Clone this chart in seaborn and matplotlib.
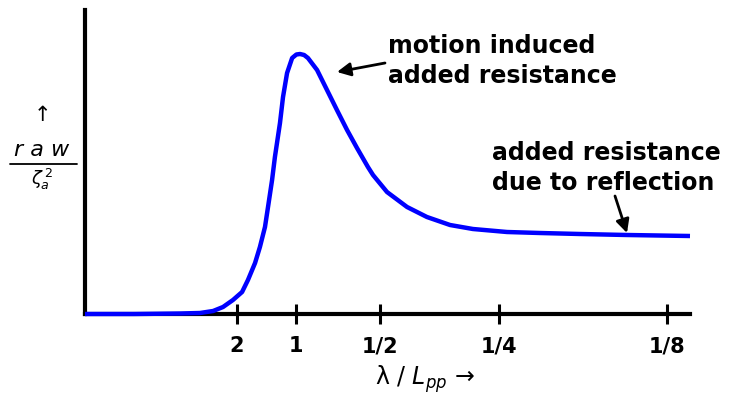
import numpy as np
import pandas as pd
import matplotlib
matplotlib.use("Agg")
import matplotlib.pyplot as plt
import seaborn as sns

# ---- data ----
# x: frequency-like coordinate (1/sqrt(lambda/Lpp)), y: raw/zeta_a^2 (arbitrary units)
omega = [-0.043, 0.200, 0.426, 0.524, 0.589, 0.638, 0.687, 0.732, 0.761, 0.796,
         0.820, 0.845, 0.860, 0.880, 0.894, 0.919, 0.934, 0.954, 0.979, 1.000,
         1.018, 1.038, 1.057, 1.102, 1.151, 1.200, 1.250, 1.299, 1.353, 1.378,
         1.447, 1.546, 1.644, 1.758, 1.871, 2.039, 2.202, 2.399, 2.631, 2.942]
raw = [0.000, 0.000, 0.005, 0.010, 0.030, 0.070, 0.140, 0.220, 0.340, 0.510,
       0.670, 0.870, 1.070, 1.340, 1.570, 1.910, 2.170, 2.410, 2.560, 2.595,
       2.600, 2.590, 2.560, 2.440, 2.240, 2.040, 1.840, 1.660, 1.470, 1.390,
       1.220, 1.070, 0.970, 0.890, 0.850, 0.820, 0.810, 0.800, 0.790, 0.780]
tick_lambda = [2, 1, 0.5, 0.25, 0.125]
tick_labels = ["2", "1", "1/2", "1/4", "1/8"]

df = pd.DataFrame({"omega": omega, "raw": raw})

sns.set_theme(style="white")
plt.rcParams["font.family"] = ["DejaVu Sans"]
plt.rcParams["text.color"] = "black"
plt.rcParams["xtick.color"] = "black"
plt.rcParams["xtick.labelcolor"] = "black"

W, H = 731, 394
fig = plt.figure(figsize=(W / 100, H / 100), dpi=100)
ax = fig.add_axes([85 / W, 1 - 314 / H, (690 - 85) / W, (314 - 10) / H])

sns.lineplot(data=df, x="omega", y="raw", ax=ax, color="#0000FF",
             linewidth=3.2, clip_on=False, zorder=5,
             solid_joinstyle="round", solid_capstyle="butt")

ax.set_xlim(-0.043, 2.942)
ax.set_ylim(0, 3.04)

for s in ["top", "right"]:
    ax.spines[s].set_visible(False)
for s in ["left", "bottom"]:
    ax.spines[s].set_color("black")
    ax.spines[s].set_linewidth(3.0)

tick_pos = [1 / np.sqrt(l) for l in tick_lambda]
ax.set_xticks(tick_pos)
ax.set_xticklabels(tick_labels, fontweight="bold", fontsize=15, color="black")
ax.set_yticks([])
ax.tick_params(axis="x", direction="inout", length=14, width=2.2,
               color="black", pad=9, bottom=True)
ax.set_xlabel("")
ax.set_ylabel("")
ax.grid(False)

def fp(px, py):
    return (px / W, 1 - py / H)

# x label
fig.text(*fp(425, 379), "λ / $L_{pp}$ →", ha="center", va="center",
         fontsize=17, color="black")

# y label
fig.text(*fp(42, 115), "↑", ha="center", va="center", fontsize=15,
         color="black")
fig.text(*fp(42, 150), "r a w", ha="center", va="center", fontsize=16,
         style="italic", color="black")
fig.add_artist(plt.Line2D([10 / W, 77 / W], [1 - 164 / H, 1 - 164 / H],
                          color="black", linewidth=1.3,
                          transform=fig.transFigure))
fig.text(*fp(42, 179), r"$\zeta_a^{\,2}$", ha="center", va="center",
         fontsize=13, color="black")

# annotations
fig.text(*fp(388, 61), "motion induced\nadded resistance", ha="left",
         va="center", fontsize=17, fontweight="bold", linespacing=1.3,
         color="black")
ax.annotate("", xy=fp(337, 72), xycoords="figure fraction",
            xytext=fp(385, 63), textcoords="figure fraction",
            arrowprops=dict(arrowstyle="-|>", color="black", lw=2,
                            mutation_scale=20, shrinkA=0, shrinkB=0))
fig.text(*fp(492, 168), "added resistance\ndue to reflection", ha="left",
         va="center", fontsize=17, fontweight="bold", linespacing=1.3,
         color="black")
ax.annotate("", xy=fp(627, 233), xycoords="figure fraction",
            xytext=fp(615, 196), textcoords="figure fraction",
            arrowprops=dict(arrowstyle="-|>", color="black", lw=2,
                            mutation_scale=20, shrinkA=0, shrinkB=0))

fig.savefig("out.png", dpi=100)
